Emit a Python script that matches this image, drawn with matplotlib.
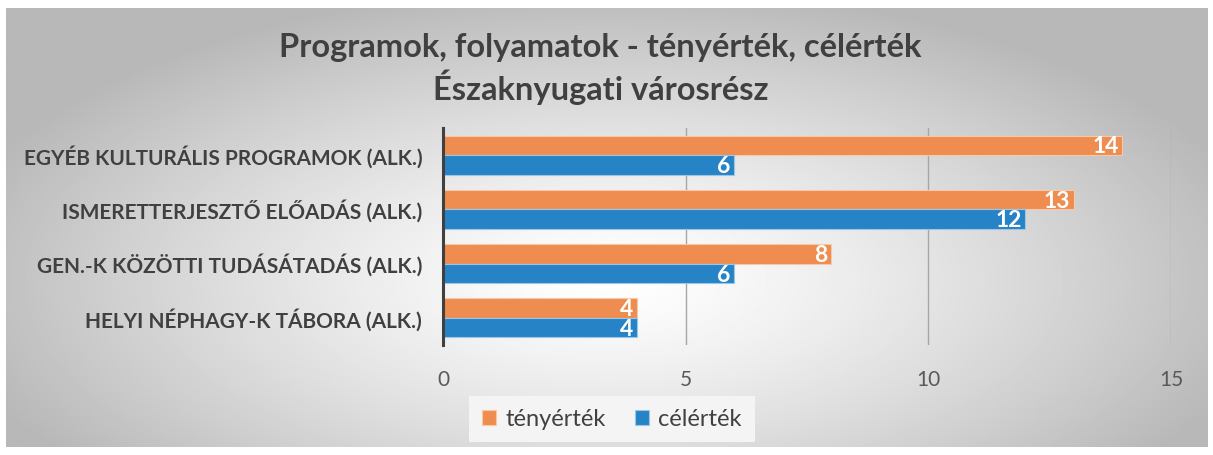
import matplotlib.pyplot as plt
import numpy as np

# data
categories = ["EGYÉB KULTURÁLIS PROGRAMOK (ALK.)",
              "ISMERETTERJESZTŐ ELŐADÁS (ALK.)",
              "GEN.-K KÖZÖTTI TUDÁSÁTADÁS (ALK.)",
              "HELYI NÉPHAGY-K TÁBORA (ALK.)"]
tenyertek = [14, 13, 8, 4]
celertek = [6, 12, 6, 4]
series_names = ["tényérték", "célérték"]

plt.rcParams['font.family'] = ['Lato', 'DejaVu Sans']

W, H = 1213, 455
fig = plt.figure(figsize=(W / 100, H / 100), dpi=100)

# radial gradient background panel
bg = fig.add_axes([6 / W, 8 / H, 1 - 11 / W, 1 - 16 / H])
yy, xx = np.mgrid[0:1:300j, 0:1:800j]
r = np.sqrt(((xx - 0.5) / 0.75) ** 2 + ((yy - 0.62) / 0.9) ** 2)
shade = 1.0 - 0.28 * np.clip(r / 0.75, 0, 1) ** 1.3
bg.imshow(shade, cmap='gray', vmin=0, vmax=1, aspect='auto', extent=[0, 1, 0, 1])
bg.axis('off')

ax = fig.add_axes([443 / W, 1 - 345 / H, (1171 - 443) / W, (345 - 128) / H])
ax.patch.set_alpha(0)

y = np.arange(len(categories))
h = 0.36
b1 = ax.barh(y - h / 2, tenyertek, height=h, color='#ee8d4f', edgecolor='#f6c9ab', linewidth=0.8,
             label=series_names[0], zorder=3)
b2 = ax.barh(y + h / 2, celertek, height=h, color='#2683c6', edgecolor='#9cc6e6', linewidth=0.8,
             label=series_names[1], zorder=3)

# value labels at the inside end of each bar
for bars, vals in [(b1, tenyertek), (b2, celertek)]:
    for bar, v in zip(bars, vals):
        ax.text(bar.get_width() - 0.08, bar.get_y() + bar.get_height() / 2 + 0.03, str(v),
                ha='right', va='center', color='white', fontsize=16.5, fontweight='bold', zorder=4)

ax.set_ylim(len(categories) - 0.5, -0.5)
ax.set_xlim(0, 15)
ax.set_xticks([0, 5, 10, 15])
ax.set_yticks(y)
ax.set_yticklabels(categories, fontsize=15, fontweight='bold', color='#404040')
ax.tick_params(axis='x', length=0, labelsize=15, labelcolor='#595959', pad=18)
ax.tick_params(axis='y', length=0, pad=15)
ax.grid(axis='x', color='#a6a6a6', linewidth=1, zorder=0)
for s in ['top', 'right', 'bottom']:
    ax.spines[s].set_visible(False)
ax.spines['left'].set_color('#404040')
ax.spines['left'].set_linewidth(2.2)
ax.spines['left'].set_zorder(5)

fig.text(0.495, 1 - 47 / H, "Programok, folyamatok - tényérték, célérték", ha='center', va='center',
         fontsize=23.5, fontweight='bold', color='#404040')
fig.text(0.495, 1 - 87 / H, "Északnyugati városrész", ha='center', va='center',
         fontsize=23.5, fontweight='bold', color='#404040')

leg = fig.legend(handles=[b1, b2], loc='center', bbox_to_anchor=(612 / W, 1 - 419 / H), ncol=2,
                 fontsize=17, frameon=True, fancybox=False, handlelength=0.6, handleheight=0.6,
                 columnspacing=1.2, handletextpad=0.4, borderpad=0.55)
leg.get_frame().set_facecolor('#f4f4f4')
leg.get_frame().set_edgecolor('none')
leg.get_frame().set_alpha(1)
for t in leg.get_texts():
    t.set_color('#404040')

fig.savefig('out.png', dpi=100, facecolor='white')
